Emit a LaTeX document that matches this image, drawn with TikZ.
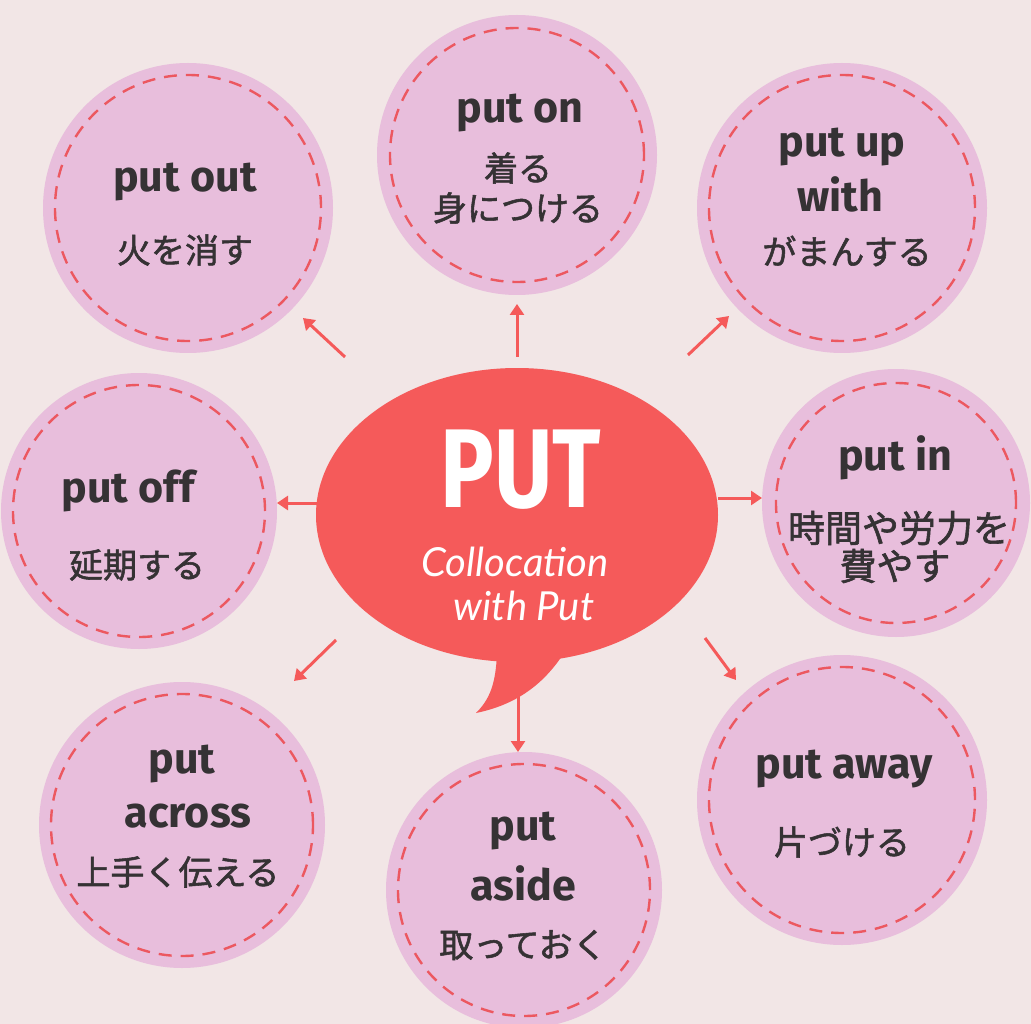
\documentclass[tikz,border=0pt]{standalone}
\usepackage{fontspec}
\setmainfont{Fira Sans}
\newfontfamily\cjk{Noto Sans CJK JP}[FakeBold=1.6]
\newfontfamily\scr{Lato}
\usetikzlibrary{arrows.meta,shapes.geometric}
\definecolor{bg}{HTML}{F2E6E6}
\definecolor{lav}{HTML}{E8BEDC}
\definecolor{hubred}{HTML}{F55A5A}
\definecolor{dashred}{HTML}{EC5860}
\definecolor{ink}{HTML}{353234}
\begin{document}
\begin{tikzpicture}[x=1pt,y=-1pt,
  circ/.style={circle, fill=lav, minimum size=#1, inner sep=0pt},
  dsh/.style={draw=dashred, line width=2.4pt, dash pattern=on 13pt off 9pt},
  en/.style={anchor=base, text=ink, inner sep=0pt, font=\fontsize{43}{43}\selectfont\bfseries},
  jp/.style={anchor=center, text=ink, inner sep=0pt, font=\cjk\fontsize{34}{34}\selectfont},
  arr/.style={draw=hubred, line width=3pt, -{Triangle[length=11pt,width=14pt]}}]
\fill[bg] (0,0) rectangle (1031,1024);
\useasboundingbox (0,0) rectangle (1031,1024);

% circles
\node[circ=290pt] (out) at (188,208) {};
\node[circ=280pt] (on) at (517,155) {};
\node[circ=290pt] (upw) at (842,208) {};
\node[circ=276pt] (off) at (139,511) {};
\node[circ=268pt] (in) at (896,503) {};
\node[circ=286pt] (across) at (182,825) {};
\node[circ=276pt] (aside) at (524,890) {};
\node[circ=290pt] (away) at (842,800) {};

\draw[dsh] (out.center) circle[radius=133pt];
\draw[dsh] (on.center) circle[radius=127pt];
\draw[dsh] (upw.center) circle[radius=133pt];
\draw[dsh] (off.center) circle[radius=126pt];
\draw[dsh] (in.center) circle[radius=120pt];
\draw[dsh] (across.center) circle[radius=131pt];
\draw[dsh] (aside.center) circle[radius=126pt];
\draw[dsh] (away.center) circle[radius=133pt];

% hub bubble
\node[ellipse, fill=hubred, minimum width=402pt, minimum height=294pt, inner sep=0pt] (hub) at (517,515) {};
\fill[hubred] (497,652) .. controls (496,685) and (489,700) .. (476,713)
  .. controls (515,705) and (545,685) .. (567,648) -- cycle;
\node[text=white, inner sep=0pt, font=\fontsize{112}{112}\selectfont\bfseries] (putT) at (521,470) {\scalebox{0.8}[1]{PUT}};
\node[text=white, inner sep=0pt, font=\scr\itshape\fontsize{40}{40}\selectfont] (col) at (515,562) {Collocation};
\node[text=white, inner sep=0pt, font=\scr\itshape\fontsize{40}{40}\selectfont] (wput) at (524,606) {with Put};

% texts
\node[en] (outA) at (185,192) {put out};
\node[jp] (outB) at (185,250) {火を消す};

\node[en] (onA) at (520,123) {put on};
\node[jp] (onB) at (518,168) {着る};
\node[jp] (onC) at (518,208) {身につける};

\node[en] (upwA) at (842,157) {put up};
\node[en] (upwB) at (840,212) {with};
\node[jp] (upwC) at (847,251) {がまんする};

\node[en] (offA) at (128,502) {put off};
\node[jp] (offB) at (137,565) {延期する};

\node[en] (inA) at (895,470) {put in};
\node[jp, font=\cjk\fontsize{37}{37}\selectfont] (inB) at (899,528) {時間や労力を};
\node[jp, font=\cjk\fontsize{37}{37}\selectfont] (inC) at (895,566) {費やす};

\node[en] (acrA) at (182,773) {put};
\node[en] (acrB) at (188,827) {across};
\node[jp] (acrC) at (178,872) {上手く伝える};

\node[en] (asiA) at (523,840) {put};
\node[en] (asiB) at (523,900) {aside};
\node[jp] (asiC) at (523,945) {取っておく};

\node[en] (awyA) at (844,778) {put away};
\node[jp] (awyB) at (842,842) {片づける};

% arrows
\coordinate (s1) at (345,357); \coordinate (e1) at (303,318);
\coordinate (s2) at (517,357); \coordinate (e2) at (517,304);
\coordinate (s3) at (688,355); \coordinate (e3) at (729,316);
\coordinate (s4) at (317,503); \coordinate (e4) at (277,503);
\coordinate (s5) at (718,498); \coordinate (e5) at (762,498);
\coordinate (s6) at (336,640); \coordinate (e6) at (294,681);
\coordinate (s7) at (518,693); \coordinate (e7) at (518,752);
\coordinate (s8) at (705,638); \coordinate (e8) at (736,680);
\draw[arr] (s1) -- (e1);
\draw[arr] (s2) -- (e2);
\draw[arr] (s3) -- (e3);
\draw[arr] (s4) -- (e4);
\draw[arr] (s5) -- (e5);
\draw[arr] (s6) -- (e6);
\draw[arr] (s7) -- (e7);
\draw[arr] (s8) -- (e8);
\end{tikzpicture}
\end{document}
